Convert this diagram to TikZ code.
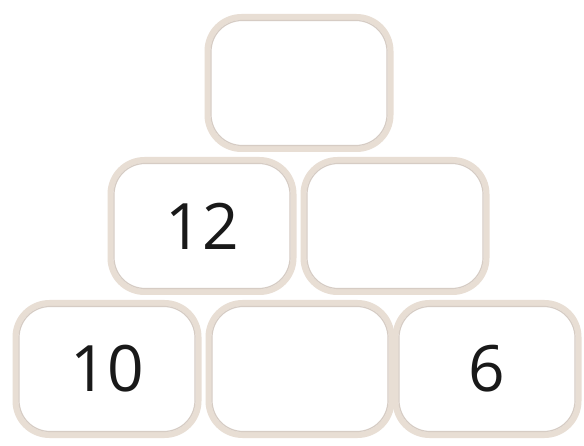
\documentclass[tikz,border=0pt]{standalone}
\usepackage{fontspec}
\setmainfont{Open Sans}
\definecolor{rim}{RGB}{232,222,212}
\definecolor{rimin}{RGB}{214,204,196}
\definecolor{numcol}{RGB}{25,25,25}
\tikzset{
  brick/.style={draw=rim, line width=6pt, rounded corners=34pt, fill=white,
    minimum width=183pt, minimum height=132pt, inner sep=0pt,
    font=\fontsize{64}{64}\selectfont, text=numcol},
  brickin/.style={draw=rimin, line width=1.2pt, rounded corners=31pt,
    minimum width=176pt, minimum height=125pt, inner sep=0pt}
}
\begin{document}
\begin{tikzpicture}[x=1pt,y=-1pt]
\useasboundingbox[fill=white] (0,0) rectangle (584,446);
\node[brick] (t)  at (299,83) {};
\node[brick] (ml) at (202,226) {12};
\node[brick] (mr) at (395,226) {};
\node[brick] (bl) at (107,369) {10};
\node[brick] (bm) at (300,369) {};
\node[brick] (br) at (487,369) {6};
\foreach \n in {t,ml,mr,bl,bm,br}{\node[brickin] at (\n) {};}
\end{tikzpicture}
\end{document}
